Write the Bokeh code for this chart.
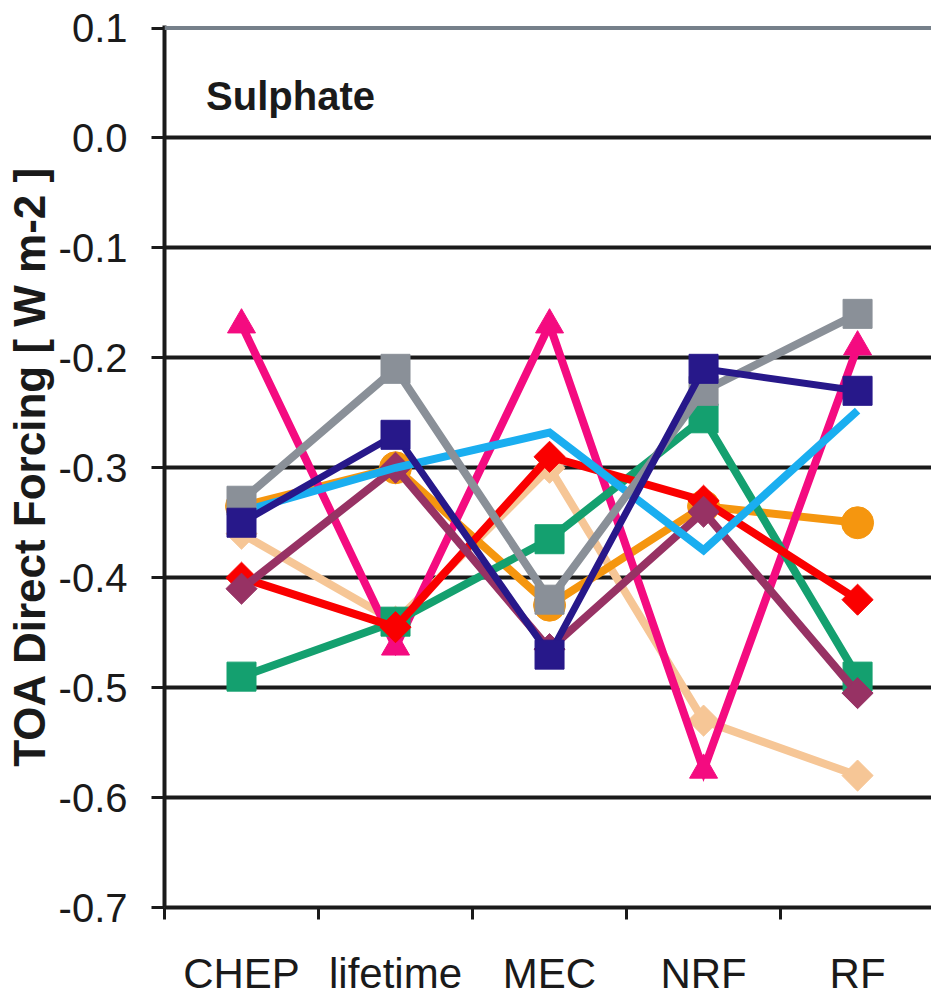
import numpy as np
from bokeh.plotting import figure
from bokeh.models import Range1d, FixedTicker, PrintfTickFormatter, Span, Label
from bokeh.embed import file_html
from bokeh.resources import INLINE

categories = ["CHEP", "lifetime", "MEC", "NRF", "RF"]

peach = [-0.36, -0.44, -0.30, -0.53, -0.58]
orange = [-0.335, -0.30, -0.425, -0.335, -0.35]
pink = [-0.17, -0.463, -0.17, -0.575, -0.19]
green = [-0.49, -0.44, -0.365, -0.255, -0.49]
red = [-0.40, -0.445, -0.29, -0.33, -0.42]
purple = [-0.41, -0.30, -0.465, -0.34, -0.505]
lightblue = [-0.34, -0.30, -0.268, -0.375, -0.248]
gray = [-0.33, -0.21, -0.42, -0.23, -0.16]
navy = [-0.35, -0.27, -0.47, -0.21, -0.23]

y_ticks = [0.1, 0.0, -0.1, -0.2, -0.3, -0.4, -0.5, -0.6, -0.7]
title_text = "Sulphate"
y_title = "TOA Direct Forcing [ W m-2 ]"

FONT = "'Liberation Sans', Arial, sans-serif"
INK = "#1a1a1a"

xs = [i + 0.5 for i in range(len(categories))]

p = figure(width=931, height=1001, x_range=Range1d(0, 4.98), y_range=Range1d(-0.7, 0.1023),
           output_backend="svg", toolbar_location=None,
           min_border_left=164, min_border_right=0, min_border_top=25, min_border_bottom=94)
p.outline_line_color = None
p.background_fill_color = "white"
p.xgrid.visible = False
p.ygrid.ticker = FixedTicker(ticks=[t for t in y_ticks if t < 0.05])
p.ygrid.grid_line_color = INK
p.ygrid.grid_line_width = 4

top_line = Span(location=y_ticks[0], dimension="width", line_color="#76808a", line_width=4)
p.add_layout(top_line)

# y axis
p.yaxis.ticker = FixedTicker(ticks=y_ticks)
p.yaxis.formatter = PrintfTickFormatter(format="%.1f")
p.yaxis.axis_line_color = INK
p.yaxis.axis_line_width = 4
p.yaxis.major_tick_out = 13
p.yaxis.major_tick_in = 0
p.yaxis.major_tick_line_width = 3
p.yaxis.major_tick_line_color = INK
p.yaxis.minor_tick_line_color = None
p.yaxis.major_label_standoff = 24
p.yaxis.major_label_text_font = FONT
p.yaxis.major_label_text_font_size = "40px"
p.yaxis.major_label_text_color = INK
p.yaxis.axis_label = y_title
p.yaxis.axis_label_text_font = FONT
p.yaxis.axis_label_text_font_style = "bold"
p.yaxis.axis_label_text_font_size = "44px"
p.yaxis.axis_label_text_color = INK
p.yaxis.axis_label_standoff = 2

# x axis
p.xaxis.ticker = FixedTicker(ticks=xs, minor_ticks=list(range(len(categories) + 1)))
p.xaxis.major_label_overrides = {x: c for x, c in zip(xs, categories)}
p.xaxis.axis_line_color = INK
p.xaxis.axis_line_width = 4
p.xaxis.major_tick_out = 0
p.xaxis.major_tick_in = 0
p.xaxis.major_tick_line_color = None
p.xaxis.minor_tick_out = 12
p.xaxis.minor_tick_in = 0
p.xaxis.minor_tick_line_width = 3
p.xaxis.minor_tick_line_color = INK
p.xaxis.major_label_standoff = 30
p.xaxis.major_label_text_font = FONT
p.xaxis.major_label_text_font_size = "42px"
p.xaxis.major_label_text_color = INK

series = [
    (peach, "#f6c696", "square", 22, np.pi / 4, 8),
    (orange, "#f5960f", "circle", 32, 0, 8),
    (pink, "#f40b80", "triangle", 28, 0, 8),
    (green, "#14a06f", "square", 29, 0, 8),
    (red, "#fa0000", "square", 22, np.pi / 4, 8),
    (purple, "#973264", "square", 22, np.pi / 4, 8),
    (lightblue, "#1aaef0", None, 0, 0, 8),
    (gray, "#8a9098", "square", 29, 0, 8),
    (navy, "#27188a", "square", 29, 0, 7),
]
for vals, col, mk, sz, ang, lw in series:
    p.line(xs, vals, line_color=col, line_width=lw, line_join="miter")
    if mk is not None:
        p.scatter(xs, vals, marker=mk, size=sz, angle=ang, fill_color=col, line_color=col)

lab = Label(x=0.27, y=0.038, text=title_text, text_font=FONT, text_font_style="bold",
            text_font_size="40px", text_color=INK, text_baseline="alphabetic")
p.add_layout(lab)

open("out.html", "w").write(file_html(p, INLINE))
